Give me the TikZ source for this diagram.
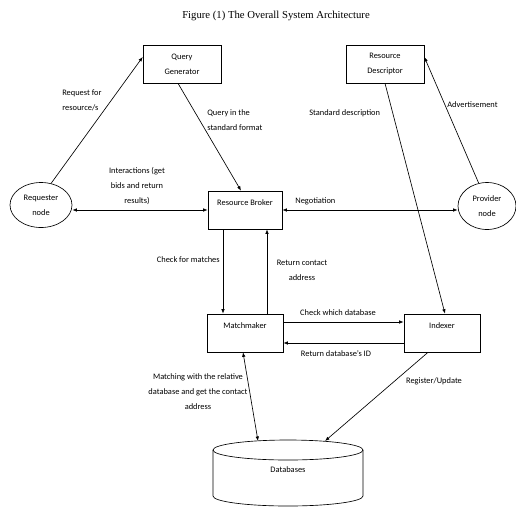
\documentclass[tikz,border=0pt]{standalone}
\usepackage{fontspec}
\setmainfont{Carlito}
\newfontfamily\titlefont{Liberation Serif}
\usetikzlibrary{arrows.meta,calc,shapes.geometric}
\begin{document}
\begin{tikzpicture}[x=1pt,y=-1pt,
  font=\fontsize{8.4}{15}\selectfont,
  line width=0.65pt,
  box/.style={draw, rectangle, minimum width=76pt, minimum height=38pt, align=center, inner sep=2pt},
  onebox/.style={box, text depth=14pt},
  ell/.style={draw, ellipse, align=center, inner sep=0pt},
  arr/.style={-{Latex[length=4.5pt,width=3.5pt]}},
  darr/.style={{Latex[length=4.5pt,width=3.5pt]}-{Latex[length=4.5pt,width=3.5pt]}},
  lbl/.style={inner sep=0pt, align=center},
  lbll/.style={inner sep=0pt, align=left}]
\useasboundingbox (0,0) rectangle (516,507);

\node[lbl, font=\titlefont\fontsize{10.7}{12}\selectfont] (title) at (276,16) {Figure (1) The Overall System Architecture};

% nodes
\node[box, minimum width=78pt] (qg) at (182,64) {Query\\Generator};
\node[box, minimum width=78pt] (rd) at (385,64) {Resource\\Descriptor};
\node[onebox, minimum width=74pt] (rb) at (245,210) {Resource Broker};
\node[onebox] (mm) at (245,333) {Matchmaker};
\node[onebox] (ix) at (442,333) {Indexer};
\node[ell, minimum width=62pt, minimum height=45pt] (req) at (41,205) {Requester\\node};
\node[ell, minimum width=58pt, minimum height=47pt] (prov) at (487,206) {Provider\\node};

% database cylinder
\draw (213,450) -- (213,496) arc[start angle=180, end angle=0, x radius=75, y radius=10] -- (363,450);
\draw (288,450) ellipse [x radius=75, y radius=10];
\node[lbl] (db) at (288,470) {Databases};
\coordinate (dbA) at (258,441);
\coordinate (dbB) at (325,441);

% connectors
\draw[arr] (req.65) -- ([yshift=7pt]qg.west);
\draw[arr] ([xshift=-4pt]qg.south) -- ([xshift=-4pt]rb.north);
\draw[darr] (req.east |- rb.west) -- (rb.west);
\draw[darr] (rb.east) -- (rb.east -| prov.west);
\draw[arr] (rd.south) -- ([xshift=3pt]ix.north);
\draw[arr] (prov.110) -- ([yshift=7pt]rd.east);
\draw[arr] ([xshift=-22pt]rb.south) -- ([xshift=-22pt]rb.south |- mm.north);
\draw[arr] ([xshift=22pt]mm.north) -- ([xshift=22pt]mm.north |- rb.south);
\draw[arr] ([yshift=11pt]mm.east) -- ([yshift=11pt]mm.east -| ix.west);
\draw[arr] ([yshift=-10pt]ix.west) -- ([yshift=-10pt]ix.west -| mm.east);
\draw[darr] ([xshift=-2pt]mm.south) -- (dbA);
\draw[arr] ([xshift=-14pt]ix.south) -- (dbB);

% labels
\node[lbll, anchor=west] (l1) at (62,100) {Request for\\resource/s};
\node[lbll, anchor=west] (l2) at (207,120) {Query in the\\standard format};
\node[lbll, anchor=west] (l3) at (309,113) {Standard description};
\node[lbll, anchor=west] (l4) at (447,105) {Advertisement};
\node[lbl] (l5) at (137,186) {Interactions (get\\bids and return\\results)};
\node[lbll, anchor=west] (l6) at (295,201) {Negotiation};
\node[lbl, anchor=east] (l7) at (220,260) {Check for matches};
\node[lbl] (l8) at (302,270) {Return contact\\address};
\node[lbl] (l9) at (338,313) {Check which database};
\node[lbl] (l10) at (336,354) {Return database's ID};
\node[lbl] (l11) at (198,392) {Matching with the relative\\database and get the contact\\address};
\node[lbl] (l12) at (434,381) {Register/Update};
\end{tikzpicture}
\end{document}
